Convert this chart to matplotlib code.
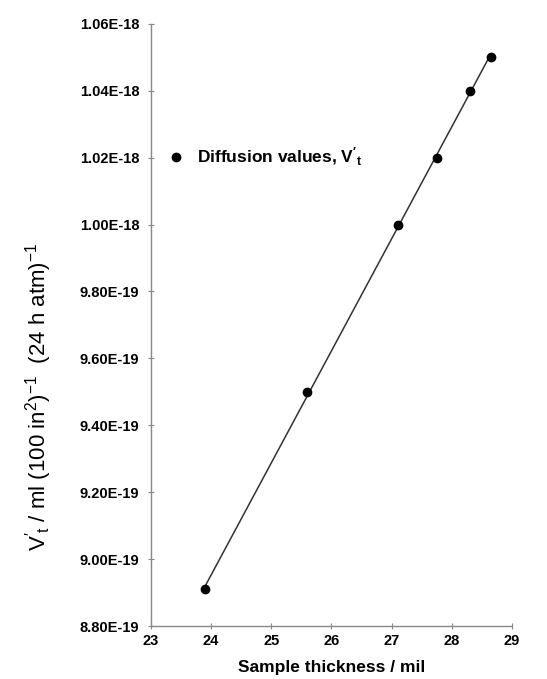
import numpy as np
import matplotlib.pyplot as plt
from matplotlib.ticker import FuncFormatter

# diffusion data
thickness = [23.9, 25.6, 27.1, 27.75, 28.3, 28.65]
diffusion = [8.91e-19, 9.50e-19, 1.00e-18, 1.02e-18, 1.04e-18, 1.05e-18]
x_ticks = [23, 24, 25, 26, 27, 28, 29]
y_ticks = [8.8e-19, 9.0e-19, 9.2e-19, 9.4e-19, 9.6e-19, 9.8e-19,
           1.0e-18, 1.02e-18, 1.04e-18, 1.06e-18]

plt.rcParams['font.family'] = ['Liberation Sans', 'DejaVu Sans']
plt.rcParams['mathtext.fontset'] = 'custom'
plt.rcParams['mathtext.rm'] = 'Liberation Sans'
plt.rcParams['mathtext.it'] = 'Liberation Sans:italic'
plt.rcParams['mathtext.bf'] = 'Liberation Sans:bold'

fig = plt.figure(figsize=(5.47, 6.79), dpi=100)
ax = fig.add_axes([0.276, 0.078, 0.660, 0.887])

# linear fit drawn across the measured range
slope, icept = np.polyfit(thickness, diffusion, 1)
xs = np.array([min(thickness), max(thickness)])
ax.plot(xs, slope * xs + icept, color='#333333', lw=1.1, zorder=2)
ax.plot(thickness, diffusion, 'o', color='black', ms=6, zorder=3,
        label=r"Diffusion values, $\mathbf{V'_t}$")

ax.set_xlim(23, 29)
ax.set_ylim(8.8e-19, 1.06e-18)
ax.set_xticks(x_ticks)
ax.set_yticks(y_ticks)
ax.yaxis.set_major_formatter(FuncFormatter(lambda v, p: '%.2E' % v))

for s in ['top', 'right']:
    ax.spines[s].set_visible(False)
for s in ['left', 'bottom']:
    ax.spines[s].set_color('#888888')
    ax.spines[s].set_linewidth(1.0)
ax.tick_params(direction='inout', length=5, width=0.8, color='#888888',
               labelsize=10.5)
ax.tick_params(axis='y', pad=6)
ax.tick_params(axis='x', pad=3)
for lab in ax.get_xticklabels() + ax.get_yticklabels():
    lab.set_fontweight('bold')

ax.set_xlabel('Sample thickness / mil', fontsize=12.5, fontweight='bold', labelpad=9)
ax.set_ylabel(r"$\mathrm{V'_t}$ / ml (100 in$^{2}$)$^{-1}$  (24 h atm)$^{-1}$",
              fontsize=16)
ax.yaxis.set_label_coords(-0.268, 0.38)

leg = ax.legend(loc='center left', bbox_to_anchor=(0.046, 0.779), frameon=False,
                handletextpad=0.7, borderaxespad=0, borderpad=0, fontsize=12.5,
                handlelength=1.0)
for t in leg.get_texts():
    t.set_fontweight('bold')

fig.savefig('out.png', dpi=100)
